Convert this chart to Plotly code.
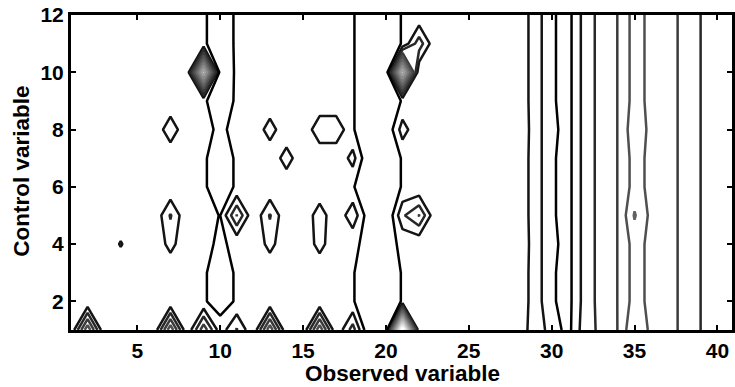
import numpy as np
import plotly.graph_objects as go

# Grid coordinates
x_vals = list(range(1, 42))   # observed variable
y_vals = list(range(1, 13))   # control variable

baseline = 1.1

# Low columns (one value per control level, y = 1..12)
col10 = [1.4, 0.6, 0.6, 0.933, 0.99, 0.6, 0.6, 0.933, 0.6, 0.5, 0.6, 0.6]
col19 = [-0.07, 0.1, 0.1, 0.85, 0.254, 0.1, -0.05, 0.1, 0.1, 0.1, 0.1, 0.1]
col20 = [0.1, 0.1, 0.1, 0.814, -0.21, 0.1, 0.1, 0.013, 0.1, 0.1, 0.1, 0.1]

# Right-hand band, columns 28..41
right_cols = list(range(28, 42))
right_profile = [1.125, 2.583, 1.126, 0.643, 2.43, 3.38, 4.026, 5.417, 4.722, 4.4, 3.733, 2.99, 2.7, 2.7]
right_row1 = [1.125, 2.75, 1.5, 0.667, 2.6, 3.215, 4.03, 5.97, 4.757, 4.4, 3.733, 2.99, 2.7, 2.7]

# Individual cell values (x, y, z)
cells = [
    (29, 4, 2.508), (30, 4, 1.238), (29, 8, 2.508), (30, 8, 1.238),
    (35, 5, 6.1), (35, 8, 5.7),
    (2, 1, 5.8), (7, 1, 5.8), (9, 1, 4.7), (11, 1, 3.1), (13, 1, 5.8),
    (16, 1, 5.8), (18, 1, 3.5), (21, 1, 15.0),
    (4, 4, 2.1), (7, 4, 2.4), (7, 5, 3.1), (7, 8, 2.74), (9, 10, 10.0),
    (11, 5, 4.05), (13, 4, 2.4), (13, 5, 3.1), (13, 8, 2.55), (14, 7, 2.55),
    (16, 4, 2.44), (16, 5, 2.63), (16, 8, 2.8), (17, 8, 2.8),
    (18, 5, 2.74), (18, 7, 2.39), (21, 5, 2.82), (21, 8, 2.48),
    (21, 10, 10.0), (22, 5, 4.05), (22, 11, 3.6),
]

# Assemble the grid
Z = np.full((len(y_vals), len(x_vals)), baseline)
for j in range(len(y_vals)):
    Z[j, 10 - 1] = col10[j]
    Z[j, 19 - 1] = col19[j]
    Z[j, 20 - 1] = col20[j]
    prof = right_row1 if y_vals[j] == 1 else right_profile
    for k, xc in enumerate(right_cols):
        Z[j, xc - 1] = prof[k]
for xc, yc, v in cells:
    Z[yc - 1, xc - 1] = v

font_family = "Liberation Sans"
line_w = 2.5

fig = go.Figure()

# Upper contour levels, dark to light
fig.add_trace(go.Contour(
    x=x_vals, y=y_vals, z=Z,
    autocontour=False,
    contours=dict(start=2, end=14, size=1, coloring="lines"),
    colorscale=[[0, "rgb(20,20,20)"], [1, "rgb(255,255,255)"]],
    line=dict(width=line_w, smoothing=0),
    showscale=False, hoverinfo="skip",
))

# Lowest level in black
fig.add_trace(go.Contour(
    x=x_vals, y=y_vals, z=Z,
    autocontour=False,
    contours=dict(start=1, end=1, size=1, coloring="lines"),
    colorscale=[[0, "black"], [1, "black"]],
    line=dict(width=line_w, smoothing=0),
    showscale=False, hoverinfo="skip",
))

axis_common = dict(
    showline=True, linecolor="black", linewidth=3,
    mirror="ticks", ticks="inside", ticklen=5, tickwidth=2, tickcolor="black",
    showgrid=False, zeroline=False,
    tickfont=dict(family=font_family, size=21, color="black", weight="bold"),
)

title_font = dict(family=font_family, size=22.5, color="black", weight="bold")

fig.update_layout(
    width=735, height=387,
    margin=dict(l=71, r=0, t=15, b=57),
    paper_bgcolor="white", plot_bgcolor="white",
    showlegend=False,
    xaxis=dict(range=[1, 40.88], tickmode="array", tickvals=[5, 10, 15, 20, 25, 30, 35, 40], **axis_common),
    yaxis=dict(range=[1, 12], tickmode="array", tickvals=[2, 4, 6, 8, 10, 12], **axis_common),
    annotations=[
        dict(text="Observed variable", xref="paper", yref="paper", x=0.5008, y=-0.139,
             xanchor="center", yanchor="middle", showarrow=False, font=title_font),
        dict(text="Control variable", xref="paper", yref="paper", x=-0.0753, y=0.503,
             xanchor="center", yanchor="middle", showarrow=False, textangle=-90,
             font=title_font),
    ],
)

fig.write_html("out.html")
